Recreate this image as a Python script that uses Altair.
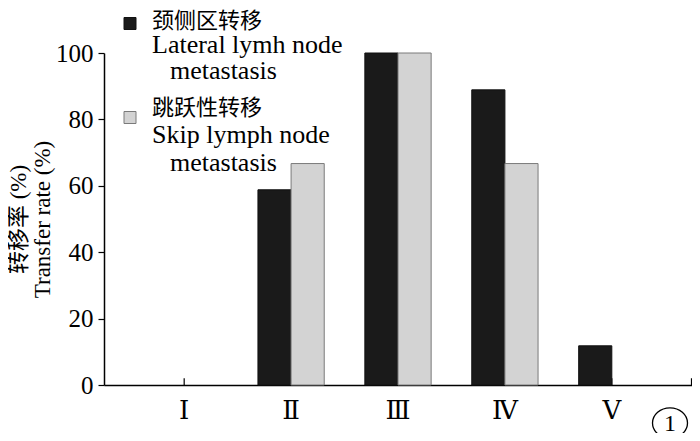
import altair as alt
import pandas as pd

categories = ["Ⅰ", "Ⅱ", "Ⅲ", "Ⅳ", "Ⅴ"]
lateral = [0, 58.8, 100, 88.9, 11.8]
skip = [0, 66.7, 100, 66.7, 0]
series = ["lateral", "skip"]
legend_lines = [
    ["颈侧区转移", "Lateral lymh node", "metastasis"],
    ["跳跃性转移", "Skip lymph node", "metastasis"],
]
y_ticks = [0, 20, 40, 60, 80, 100]
y_title = ["转移率 (%)", "Transfer rate (%)"]
panel_label = "1"

fills = ["#1a1a1a", "#d3d3d3"]
strokes = ["#111111", "#7a7a7a"]
SERIF = "Liberation Serif, DejaVu Serif, Noto Sans CJK SC"
CJK = "Noto Sans CJK SC"

W, H = 588, 332

rows = []
for c, a, b in zip(categories, lateral, skip):
    if a > 0:
        rows.append({"cat": c, "series": series[0], "value": a})
    if b > 0:
        rows.append({"cat": c, "series": series[1], "value": b})
df = pd.DataFrame(rows)

xscale = alt.Scale(domain=categories, paddingInner=0.38, paddingOuter=0.44)
yscale = alt.Scale(domain=[0, 100])
color = alt.Color("series:N", scale=alt.Scale(domain=series, range=fills), legend=None)
stroke = alt.Stroke("series:N", scale=alt.Scale(domain=series, range=strokes), legend=None)

x_axis = alt.Axis(ticks=False, domainColor="black", domainWidth=1.5, labelFont=SERIF,
                  labelFontSize=26, labelAngle=0, labelColor="black", labelBaseline="middle",
                  labelPadding=25, title=None, grid=False)
y_axis = alt.Axis(values=y_ticks, tickSize=6, tickWidth=1.2, tickColor="black",
                  domainColor="black", domainWidth=1.5, labelFont=SERIF, labelFontSize=25,
                  labelColor="black", labelPadding=5, grid=False, title=y_title,
                  titleFont=SERIF, titleFontSize=23, titleFontWeight="normal",
                  titleColor="black", titleAngle=270, titleAlign="center",
                  titleX=-74, titleY=H / 2, titleLineHeight=24)

ticks = alt.Chart(pd.DataFrame({"cat": categories})).mark_rule(color="black", strokeWidth=1.2).encode(
    x=alt.X("cat:N", bandPosition=0.5, scale=xscale, axis=x_axis),
    y=alt.datum(0, scale=yscale, axis=y_axis),
    y2=alt.datum(2),
)
end_tick = alt.Chart(pd.DataFrame({"cat": [categories[-1]]})).mark_rule(color="black", strokeWidth=1.2).encode(
    x=alt.value(W - 0.5),
    y=alt.datum(0),
    y2=alt.datum(2),
)

bars = alt.Chart(df).mark_bar(strokeWidth=1).encode(
    x=alt.X("cat:N", scale=xscale, axis=x_axis),
    xOffset=alt.XOffset("series:N", scale=alt.Scale(domain=series, paddingInner=0, paddingOuter=0)),
    y=alt.Y("value:Q", scale=yscale, axis=y_axis),
    color=color,
    stroke=stroke,
)

# legend (drawn by hand, colours from the same scales)
square_y = [-29.5, 64.5]
line_y = [[-25, 0, 26], [62, 90, 118]]
line_x = [48, 48, 66]
line_font = [CJK, SERIF, SERIF]
line_size = [22, 26, 26]
legend_layers = []
for i, s in enumerate(series):
    sub = pd.DataFrame({"series": [s]})
    legend_layers.append(
        alt.Chart(sub).mark_point(shape="square", filled=True, size=144, opacity=1, strokeWidth=1).encode(
            x=alt.value(26), y=alt.value(square_y[i]), color=color, stroke=stroke)
    )
    for j, txt in enumerate(legend_lines[i]):
        tdf = pd.DataFrame({"series": [s], "text": [txt]})
        legend_layers.append(
            alt.Chart(tdf).mark_text(align="left", baseline="alphabetic", font=line_font[j],
                                     fontSize=line_size[j], color="black").encode(
                x=alt.value(line_x[j]), y=alt.value(line_y[i][j]), text="text:N")
        )

lab_df = pd.DataFrame({"t": [panel_label]})
circle = alt.Chart(lab_df).mark_point(
    shape="M -1 0 A 1 0.87 0 1 0 1 0 A 1 0.87 0 1 0 -1 0 Z",
    filled=False, size=35 * 35, color="black", strokeWidth=1.3, opacity=1).encode(
    x=alt.value(W - 22), y=alt.value(H + 38))
circle_txt = alt.Chart(lab_df).mark_text(font=SERIF, fontSize=24, color="black",
                                         baseline="middle", align="center").encode(
    x=alt.value(W - 22), y=alt.value(H + 39), text="t:N")

chart = alt.layer(ticks, end_tick, bars, *legend_layers, circle, circle_txt).properties(
    width=W, height=H,
    autosize=alt.AutoSizeParams(type="none"),
    padding={"left": 96, "top": 45, "right": 0, "bottom": 48},
    background="white",
).configure_view(stroke=None)

chart.save("out.html", embed_options={"renderer": "svg", "actions": False})
